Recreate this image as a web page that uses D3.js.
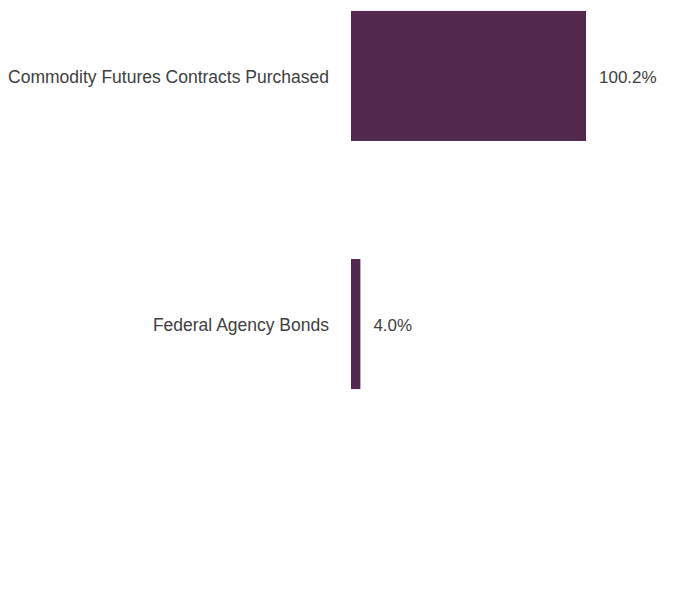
<!DOCTYPE html>
<html>
<head>
<meta charset="utf-8">
<script src="https://cdn.jsdelivr.net/npm/d3@7"></script>
<style>
  body { margin: 0; background: #fff; }
  svg text { font-family: "Liberation Sans", Arial, sans-serif; fill: #404040; }
</style>
</head>
<body>
<svg width="696" height="600"></svg>
<script>
var categories = ["Commodity Futures Contracts Purchased", "Federal Agency Bonds"];
var values = [100.2, 4.0];
var valueLabels = ["100.2%", "4.0%"];

var svg = d3.select("svg");
var margin = {top: 0, left: 351};

var x = d3.scaleLinear().domain([0, 100.2]).range([0, 235]);
var y = d3.scaleBand().domain(categories).range([0, 400]).paddingInner(0.476).paddingOuter(0.044);

var data = categories.map(function(c, i) { return {cat: c, value: values[i], label: valueLabels[i]}; });

var g = svg.append("g").attr("transform", "translate(" + margin.left + "," + margin.top + ")");

g.selectAll("rect.bar")
    .data(data)
    .enter().append("rect")
    .attr("class", "bar")
    .attr("x", x(0))
    .attr("y", function(d) { return y(d.cat); })
    .attr("width", function(d) { return x(d.value); })
    .attr("height", y.bandwidth())
    .attr("fill", "#52284e");

g.append("g")
    .call(d3.axisLeft(y).tickSize(0).tickPadding(22))
    .call(function(a) { a.select(".domain").remove(); })
    .selectAll("text")
    .attr("font-size", 17.5)
    .attr("font-family", "Liberation Sans, Arial, sans-serif")
    .attr("fill", "#404040")
    .attr("dy", "0.4em");

g.selectAll("text.val")
    .data(data)
    .enter().append("text")
    .attr("class", "val")
    .attr("x", function(d) { return x(d.value) + 13; })
    .attr("y", function(d) { return y(d.cat) + y.bandwidth() / 2; })
    .attr("dy", "0.4em")
    .attr("font-size", 17)
    .text(function(d) { return d.label; });
</script>
</body>
</html>
